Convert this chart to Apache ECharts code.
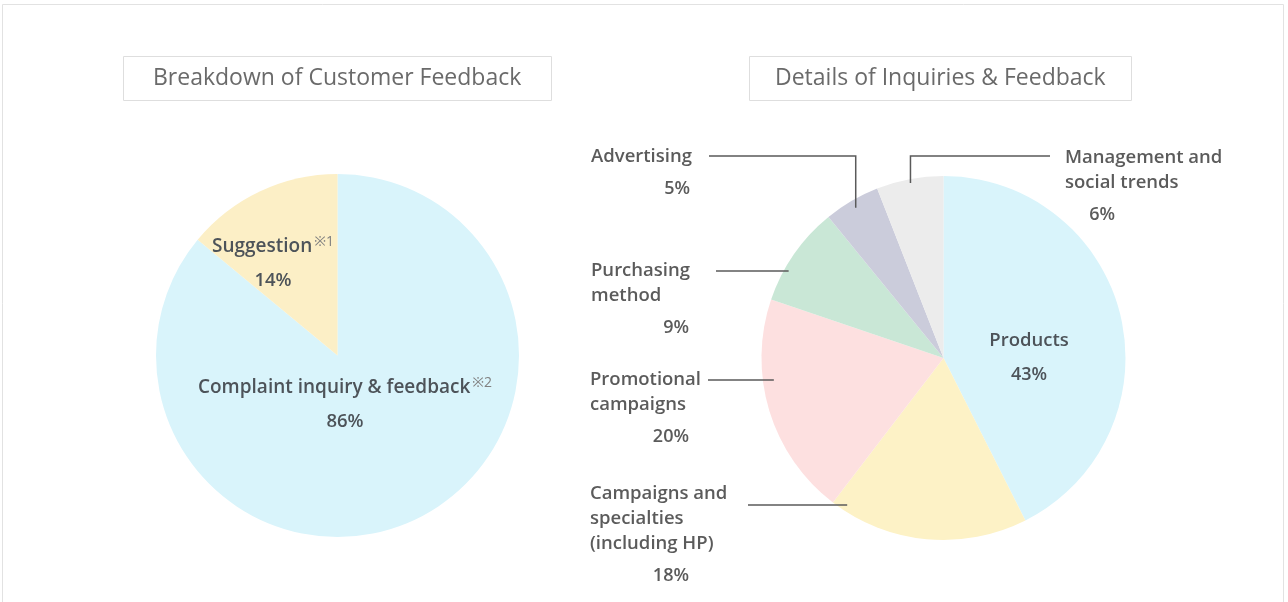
<!DOCTYPE html>
<html>
<head>
<meta charset="utf-8">
<script src="https://cdn.jsdelivr.net/npm/echarts@6/dist/echarts.min.js"></script>
<style>
  html, body { margin: 0; padding: 0; background: #fff; }
  #main { width: 1288px; height: 602px; }
</style>
</head>
<body>
<div id="main"></div>
<script>
// left pie data
const feedbackNames = ['Complaint inquiry & feedback', 'Suggestion']
const feedbackNotes = ['※2', '※1']
const feedbackValues = [86, 14]
const feedbackColors = ['#d9f4fb', '#fcefc6']

// right pie data
const detailNames = [
  'Products',
  'Campaigns and\nspecialties\n(including HP)',
  'Promotional\ncampaigns',
  'Purchasing\nmethod',
  'Advertising',
  'Management and\nsocial trends',
]
const detailValues = [43, 18, 20, 9, 5, 6]
const detailColors = ['#d9f4fb', '#fdf2c6', '#fde0e0', '#c9e7d6', '#cbccdb', '#ececec']

const FONT = '"Open Sans", "Noto Sans", "Noto Sans CJK JP", sans-serif'

// pie geometry (px)
const leftCenter = [337.5, 355.5]
const leftRadius = 181.5
const rightCenter = [943.5, 358]
const rightRadius = 182

// label placement (top of first text line)
const feedbackLabelPos = [
  [345, 376],
  [273, 235],
]
const detailLabelPos = [
  { x: 1029, y: 329, align: 'center' },
  { x: 590, y: 481.5, w: 99, from: [748, 505], inset: 11 },
  { x: 590, y: 367.5, w: 99, from: [708, 380], inset: 11 },
  { x: 591, y: 258.5, w: 98, from: [716, 271], inset: 5 },
  { x: 591, y: 144.5, w: 99, from: [709, 156], elbow: true, inset: 8 },
  { x: 1065, y: 145.5, w: 50, from: [1050, 156], elbow: true, inset: 4 },
]

// mid angle of each slice, clockwise from 12 o'clock
const detailTotal = detailValues.reduce((a, b) => a + b, 0)
const detailMid = []
let acc = 0
detailValues.forEach((v) => {
  detailMid.push(((acc + v / 2) / detailTotal) * 2 * Math.PI)
  acc += v
})

function leaderPoints(i) {
  const L = detailLabelPos[i]
  const [cx, cy] = rightCenter
  const [sx, sy] = L.from
  if (L.elbow) {
    const r = rightRadius - L.inset
    const ex = cx + r * Math.sin(detailMid[i])
    const ey = cy - r * Math.cos(detailMid[i])
    return [[sx, sy], [ex, sy], [ex, ey]]
  }
  const dy = sy - cy
  const ex = cx - Math.sqrt(rightRadius * rightRadius - dy * dy) + L.inset
  return [[sx, sy], [(sx + ex) / 2, sy], [ex, sy]]
}

const innerRich = {
  n: { fontFamily: FONT, fontSize: 19, fontWeight: 600, color: '#4d5359', lineHeight: 24 },
  s: { fontFamily: FONT, fontSize: 14, color: '#808080', lineHeight: 16, verticalAlign: 'top', padding: [0, 0, 0, 2] },
  p: { fontFamily: FONT, fontSize: 18.5, fontWeight: 600, color: '#4d5359', lineHeight: 44 },
}

const outerRich = {
  n: { fontFamily: FONT, fontSize: 18.5, fontWeight: 600, color: '#5b5b5b', lineHeight: 25, align: 'left' },
  q: { fontFamily: FONT, fontSize: 18, fontWeight: 600, color: '#5b5b5b', lineHeight: 38, align: 'right' },
  c: { fontFamily: FONT, fontSize: 18.5, fontWeight: 600, color: '#4d5359', lineHeight: 24 },
  cp: { fontFamily: FONT, fontSize: 18, fontWeight: 600, color: '#4d5359', lineHeight: 44 },
}

const chart = echarts.init(document.getElementById('main'))

const titleStyle = {
  fontFamily: FONT,
  fontSize: 23,
  fontWeight: 'normal',
  color: '#6a6a6a',
}

const option = {
  animation: false,
  graphic: [
    {
      type: 'rect',
      shape: { x: 2.5, y: 4.5, width: 1281, height: 620 },
      style: { fill: 'none', stroke: '#e2e2e2', lineWidth: 1 },
      silent: true,
    },
  ],
  title: [
    {
      text: 'Breakdown of Customer Feedback',
      left: 123,
      top: 56,
      padding: [11, 30, 11, 30],
      borderColor: '#dedede',
      borderWidth: 1,
      textStyle: titleStyle,
    },
    {
      text: 'Details of Inquiries & Feedback',
      left: 749,
      top: 56,
      padding: [11, 26, 11, 26],
      borderColor: '#dedede',
      borderWidth: 1,
      textStyle: titleStyle,
    },
  ],
  series: [
    {
      type: 'pie',
      center: leftCenter,
      radius: leftRadius,
      startAngle: 90,
      clockwise: true,
      avoidLabelOverlap: false,
      emphasis: { disabled: true },
      itemStyle: { borderWidth: 0 },
      label: {
        show: true,
        position: 'inside',
        overflow: 'none',
        formatter: (p) =>
          `{n|${p.name}}{s|${feedbackNotes[p.dataIndex]}}\n{p|${p.value}%}`,
        rich: innerRich,
      },
      labelLine: { show: false },
      labelLayout: (params) => ({
        x: feedbackLabelPos[params.dataIndex][0],
        y: feedbackLabelPos[params.dataIndex][1],
        align: 'center',
        verticalAlign: 'top',
      }),
      data: feedbackNames.map((name, i) => ({
        name: name,
        value: feedbackValues[i],
        itemStyle: { color: feedbackColors[i] },
      })),
    },
    // right pie: coloured slices
    {
      type: 'pie',
      z: 2,
      center: rightCenter,
      radius: rightRadius,
      startAngle: 90,
      clockwise: true,
      emphasis: { disabled: true },
      itemStyle: { borderWidth: 0 },
      label: { show: false },
      labelLine: { show: false },
      data: detailNames.map((name, i) => ({
        name: name,
        value: detailValues[i],
        itemStyle: { color: detailColors[i] },
      })),
    },
    // right pie: same data again, transparent, carrying labels + leader lines on top
    {
      type: 'pie',
      z: 3,
      center: rightCenter,
      radius: rightRadius,
      startAngle: 90,
      clockwise: true,
      avoidLabelOverlap: false,
      silent: true,
      emphasis: { disabled: true },
      itemStyle: { color: 'rgba(0,0,0,0)', borderWidth: 0 },
      label: {
        show: true,
        position: 'outside',
        overflow: 'none',
        formatter: (p) => {
          if (p.dataIndex === 0) return `{c|${p.name}}\n{cp|${p.value}%}`
          const lines = p.name.split('\n').map((l) => `{n|${l}}`)
          return lines.join('\n') + `\n{q|${p.value}%}`
        },
        rich: outerRich,
      },
      labelLine: {
        show: true,
        smooth: false,
        lineStyle: { color: '#5a5a5a', width: 1.5 },
      },
      labelLayout: (params) => {
        const i = params.dataIndex
        const L = detailLabelPos[i]
        const out = { x: L.x, y: L.y, align: L.align || 'left', verticalAlign: 'top' }
        if (L.from) out.labelLinePoints = leaderPoints(i)
        return out
      },
      data: detailNames.map((name, i) => {
        const item = { name: name, value: detailValues[i] }
        if (i === 0) {
          item.label = { position: 'inside' }
          item.labelLine = { show: false }
        } else {
          item.label = { width: detailLabelPos[i].w }
        }
        return item
      }),
    },
  ],
}

chart.setOption(option)
</script>
</body>
</html>
